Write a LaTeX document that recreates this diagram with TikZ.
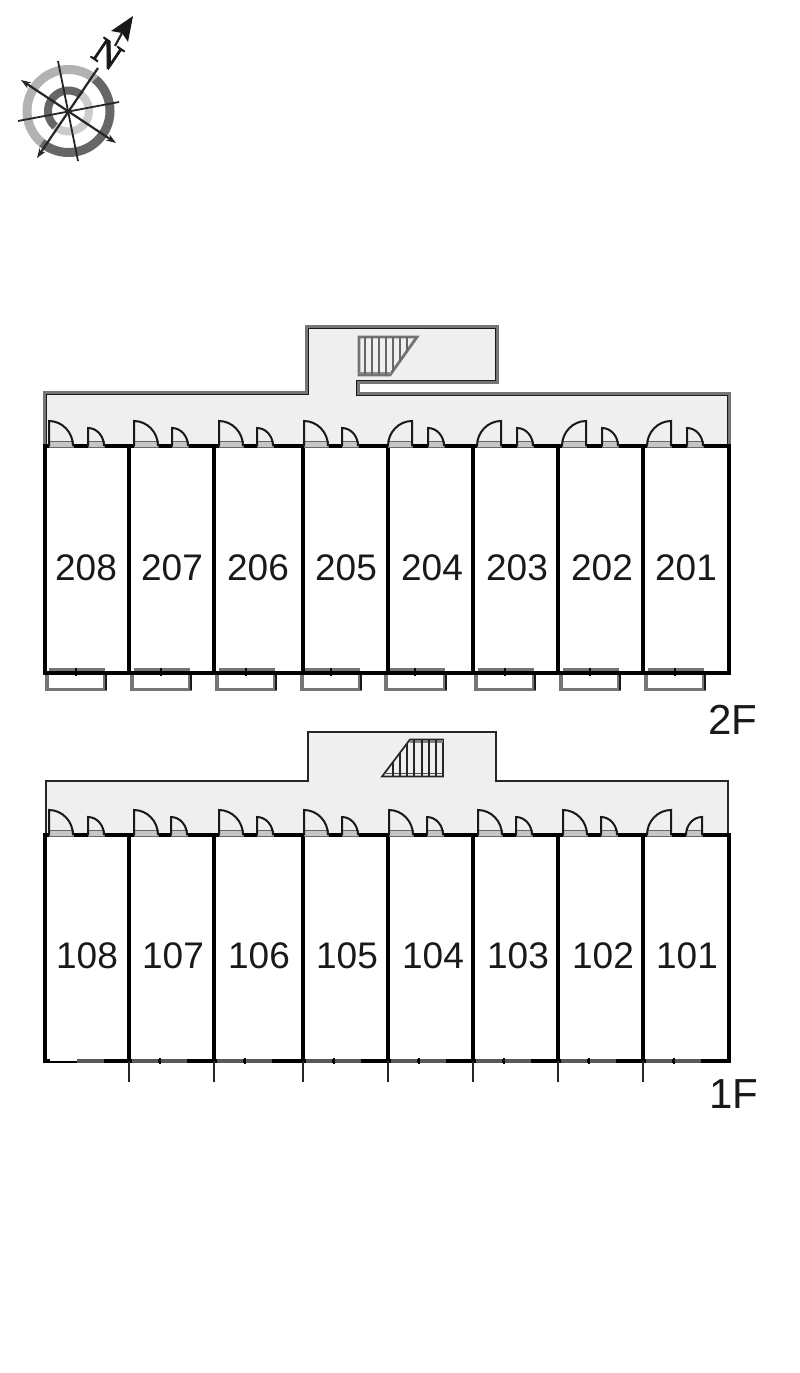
\documentclass[tikz,border=0pt]{standalone}
\usepackage{fontspec}
\setmainfont{Liberation Sans}
\newfontfamily\nfont[FakeBold=2.2]{Liberation Serif}
\usetikzlibrary{arrows.meta}
\definecolor{floorgray}{HTML}{EFEFEF}
\definecolor{wallgray}{HTML}{767676}
\definecolor{sillgray}{HTML}{C6C6C6}
\tikzset{
  wall/.style={line width=4pt,black,line cap=rect},
  outer/.style={line width=4.6pt,wallgray,line join=miter},
  outerin/.style={line width=1.6pt,black!90,line join=miter},
  thinout/.style={line width=1.8pt,black!85,line join=miter},
  doorline/.style={line width=2pt,black!90},
  sill/.style={fill=sillgray,draw=black!60,line width=.8pt},
  room/.style={font=\fontsize{37}{37}\selectfont,text=black!90,inner sep=0pt},
  floorlabel/.style={font=\fontsize{42}{42}\selectfont,text=black!90,inner sep=0pt},
  balcony/.style={line width=3.6pt,wallgray,line join=miter},
  tread/.style={line width=2.4pt,black!60},
  compassline/.style={line width=1.8pt,black!85},
  compassarrow/.style={line width=2.2pt,black!85,{Stealth[length=10pt,width=7pt]}-{Stealth[length=10pt,width=7pt]}}
}
% left-hinged door: x, base y, width, height
\newcommand\doorLeft[4]{%
  \fill[floorgray] (#1,#2) -- (#1,#2-#4) .. controls (#1+.55*#3,#2-#4) and (#1+#3,#2-.55*#4) .. (#1+#3,#2) -- cycle;
  \draw[sill] (#1,#2-5) rectangle (#1+#3,#2+1);
  \draw[doorline] (#1,#2) -- (#1,#2-#4) .. controls (#1+.55*#3,#2-#4) and (#1+#3,#2-.55*#4) .. (#1+#3,#2);
}
% right-hinged door: x of hinge, base y, width, height
\newcommand\doorRight[4]{%
  \fill[floorgray] (#1,#2) -- (#1,#2-#4) .. controls (#1-.55*#3,#2-#4) and (#1-#3,#2-.55*#4) .. (#1-#3,#2) -- cycle;
  \draw[sill] (#1-#3,#2-5) rectangle (#1,#2+1);
  \draw[doorline] (#1,#2) -- (#1,#2-#4) .. controls (#1-.55*#3,#2-#4) and (#1-#3,#2-.55*#4) .. (#1-#3,#2);
}
\begin{document}
\begin{tikzpicture}[x=1pt,y=-1pt]
\useasboundingbox (0,0) rectangle (800,1373);
\fill[white] (0,0) rectangle (800,1373);

% ---- compass
\begin{scope}[shift={(68.5,111)},x=1pt,y=1pt]
  \draw[line width=9pt,black!30] (50:41.5) arc[start angle=50,end angle=230,radius=41.5pt];
  \draw[line width=9pt,black!60] (50:41.5) arc[start angle=50,end angle=-130,radius=41.5pt];
  \draw[line width=8pt,black!60] (50:20.5) arc[start angle=50,end angle=230,radius=20.5pt];
  \draw[line width=8pt,black!20] (50:20.5) arc[start angle=50,end angle=-130,radius=20.5pt];
\end{scope}
\coordinate (cnA) at (58,61);  \coordinate (cnB) at (78,161);
\coordinate (cwA) at (18,121); \coordinate (cwB) at (119,102);
\coordinate (coA) at (21,80);  \coordinate (coB) at (116,143);
\coordinate (cdA) at (37,158); \coordinate (cdB) at (98,68);
\coordinate (cdC) at (115,46); \coordinate (cdD) at (122,33);
\draw[compassline] (cnA) -- (cnB);
\draw[compassline] (cwA) -- (cwB);
\draw[compassarrow] (coA) -- (coB);
\draw[line width=2.2pt,black!85,{Stealth[length=10pt,width=7pt]}-] (cdA) -- (cdB);
\draw[line width=2.2pt,black!85] (cdC) -- (cdD);
\fill[black!90] (133,16) -- (111,31) -- (122,33) -- (128,42) -- cycle;
\node[rotate=-34,font=\nfont\fontsize{37}{37}\selectfont,text=black!90,inner sep=0pt] (north) at (107.5,54) {N};

% ---- 2F common corridor
\fill[floorgray] (45,446) -- (45,393) -- (307,393) -- (307,327) -- (497,327) -- (497,382) -- (358,382) -- (358,394) -- (729,394) -- (729,446) -- cycle;
\draw[outer] (45,446) -- (45,393) -- (307,393) -- (307,327) -- (497,327) -- (497,382) -- (358,382) -- (358,394) -- (729,394) -- (729,446);
\draw[outerin] (46.5,446) -- (46.5,394.5) -- (308.5,394.5);
\draw[outerin] (308.5,394.5) -- (308.5,328.5) -- (495.5,328.5) -- (495.5,380.5) -- (356.5,380.5) -- (356.5,395.5) -- (727.5,395.5) -- (727.5,446);
\fill[floorgray] (311,384) rectangle (354,398);
% 2F stairs
\draw[line width=2.8pt,black!55,line join=miter] (359,337) -- (417,337) -- (390,375) -- (359,375) -- cycle;
\draw[line width=2pt,black!45] (359,373) -- (391,373);
\foreach \x in {365,372,379,386,393,400,407}{
  \pgfmathsetmacro\yb{\x<390?375:375-(\x-390)*38/27}
  \draw[tread] (\x,337) -- (\x,\yb);
}

% ---- 1F common corridor
\fill[floorgray] (46,834) -- (46,781) -- (308,781) -- (308,732) -- (496,732) -- (496,781) -- (728,781) -- (728,834) -- cycle;
\draw[thinout] (46,834) -- (46,781) -- (308,781) -- (308,732) -- (496,732) -- (496,781) -- (728,781) -- (728,834);
% 1F stairs
\draw[line width=1.7pt,black!85,line join=miter] (382,776.5) -- (410,739.5) -- (443,739.5) -- (443,776.5) -- cycle;
\draw[line width=1.2pt,black!70] (383,773.5) -- (443,773.5);
\draw[line width=2.4pt,black!50] (410,741.5) -- (443,741.5);
\foreach \x/\yt in {393/762,400/753,407/744,414/740,422/740,429/740,436/740}{
  \draw[line width=1.7pt,black!85] (\x,\yt) -- (\x,776);
}

% ---- balconies 2F
\foreach \a/\b in {47/105,132/190,217/275,302/360,386/445,476/534,561/619,646/704}{
  \draw[balcony] (\a,673) -- (\a,689.5) -- (\b,689.5) -- (\b,673);
  \draw[line width=1.4pt,black!90] (\b+.8,673) -- (\b+.8,690);
  \draw[line width=2.5pt,wallgray] (\a+2,669.5) -- (\b,669.5);
}

% ---- walls
\foreach \ybase/\ybot in {446/672.5,835/1061}{
  \draw[wall] (45,\ybase) -- (729,\ybase);
  \draw[wall] (45,\ybot) -- (729,\ybot);
  \foreach \x in {45,129,214,303,388,473,558,643,729}{
    \draw[wall] (\x,\ybase) -- (\x,\ybot);
  }
}
% window mullions 2F
\foreach \x in {76,161,246,331,415,505,590,675}{
  \draw[line width=2pt,black] (\x,668) -- (\x,676);
}
% window bars 1F
\fill[white] (50,1059) rectangle (77,1061);
\draw[line width=4.4pt,black!65] (77,1061) -- (104,1061);
\foreach \a in {132,217,306,391,476,561,646}{
  \draw[line width=4.4pt,black!65] (\a,1061) -- (\a+26,1061);
  \draw[line width=4.4pt,black!65] (\a+29,1061) -- (\a+55,1061);
  \draw[line width=2pt,black] (\a+27.5,1058) -- (\a+27.5,1064);
}
% ticks below 1F
\foreach \x in {129,214,303,388,473,558,643}{
  \draw[line width=2.4pt,black!85] (\x,1061) -- (\x,1082);
}

% ---- doors 2F
\foreach \a/\b in {49/88,134/172,219/257,304/342}{
  \doorLeft{\a}{446}{24}{25}
  \doorLeft{\b}{446}{16}{18}
}
\foreach \a/\b in {412/428,501/517,586/602,671/687}{
  \doorRight{\a}{446}{24}{25}
  \doorLeft{\b}{446}{16}{18}
}
% ---- doors 1F
\foreach \a/\b in {49/88,134/171,219/257,304/342,389/427,478/516,563/601}{
  \doorLeft{\a}{835}{24}{25}
  \doorLeft{\b}{835}{16}{18}
}
\doorRight{671}{835}{24}{25}
\doorRight{702}{835}{16}{18}

% ---- labels
\node[room] (r208) at (86,568) {208};
\node[room] (r207) at (172,568) {207};
\node[room] (r206) at (258,568) {206};
\node[room] (r205) at (346,568) {205};
\node[room] (r204) at (432,568) {204};
\node[room] (r203) at (517,568) {203};
\node[room] (r202) at (602,568) {202};
\node[room] (r201) at (686,568) {201};
\node[room] (r108) at (87,956) {108};
\node[room] (r107) at (173,956) {107};
\node[room] (r106) at (259,956) {106};
\node[room] (r105) at (347,956) {105};
\node[room] (r104) at (433,956) {104};
\node[room] (r103) at (518,956) {103};
\node[room] (r102) at (603,956) {102};
\node[room] (r101) at (687,956) {101};
\node[floorlabel] (f2) at (733,720) {2F};
\node[floorlabel] (f1) at (734,1094) {1F};
\end{tikzpicture}
\end{document}
